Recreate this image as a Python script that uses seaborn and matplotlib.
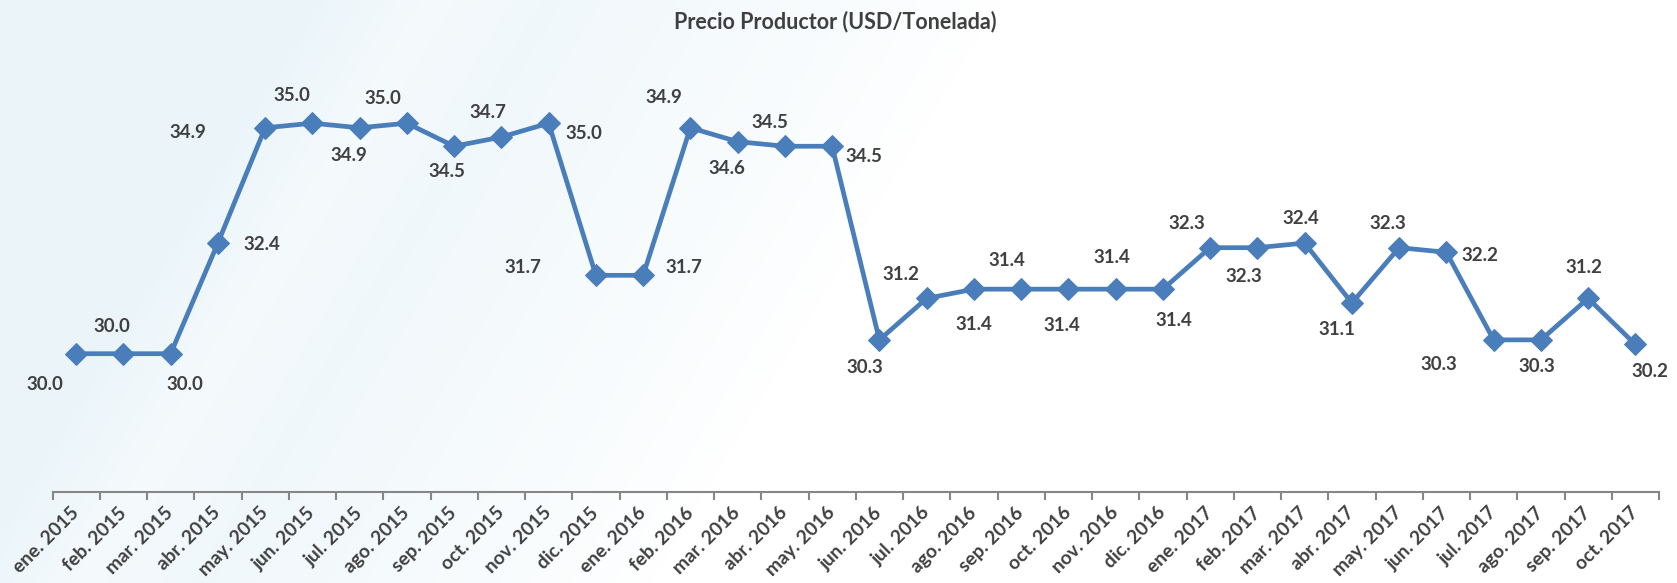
import numpy as np
import pandas as pd
import matplotlib
matplotlib.use("Agg")
import matplotlib.pyplot as plt
import seaborn as sns

# ---- data ----
months = ["ene. 2015", "feb. 2015", "mar. 2015", "abr. 2015", "may. 2015", "jun. 2015",
          "jul. 2015", "ago. 2015", "sep. 2015", "oct. 2015", "nov. 2015", "dic. 2015",
          "ene. 2016", "feb. 2016", "mar. 2016", "abr. 2016", "may. 2016", "jun. 2016",
          "jul. 2016", "ago. 2016", "sep. 2016", "oct. 2016", "nov. 2016", "dic. 2016",
          "ene. 2017", "feb. 2017", "mar. 2017", "abr. 2017", "may. 2017", "jun. 2017",
          "jul. 2017", "ago. 2017", "sep. 2017", "oct. 2017"]
prices = [30.0, 30.0, 30.0, 32.4, 34.9, 35.0, 34.9, 35.0, 34.5, 34.7, 35.0, 31.7,
          31.7, 34.9, 34.6, 34.5, 34.5, 30.3, 31.2, 31.4, 31.4, 31.4, 31.4, 31.4,
          32.3, 32.3, 32.4, 31.1, 32.3, 32.2, 30.3, 30.3, 31.2, 30.2]
title = "Precio Productor (USD/Tonelada)"

# label offsets in pixels (dx right, dy down) -- layout only
label_offsets = [(-31, 31), (-12, -27), (14, 31), (44, 1), (-77, 5), (-21, -28),
                 (-11, 28), (-24, -25), (-7, 25), (-14, -25), (35, 10), (-73, -8),
                 (41, -8), (-27, -30), (-11, 27), (-15, -24), (32, 10), (-15, 28),
                 (-26, -24), (0, 35), (-14, -29), (-7, 36), (-4, -32), (11, 31),
                 (-23, -24), (-14, 29), (-4, -25), (-15, 27), (-11, -24), (34, 3),
                 (-55, 25), (-4, 27), (-4, -31), (15, 27)]

df = pd.DataFrame({"pos": np.arange(len(months)), "mes": months, "precio": prices})

sns.set_theme(style="white")
plt.rcParams["font.family"] = ["Lato", "DejaVu Sans"]

W, H = 1677, 583
fig = plt.figure(figsize=(W / 100, H / 100), dpi=100)

# background tint (light blue fading to white along a diagonal)
bg = fig.add_axes([0, 0, 1, 1], zorder=0)
yy, xx = np.mgrid[0:H, 0:W]
u = xx + 0.6 * yy
t = np.clip((1000 - u) / 700, 0, 1) ** 0.8
band = np.clip(1 - np.abs(u - 430) / 120, 0, 1) * 0.35
t = np.clip(t - band, 0, 1)
base = np.array([0.92, 0.96, 0.978])
img = 1 - t[..., None] * (1 - base)[None, None, :]
bg.imshow(img, aspect="auto", extent=[0, 1, 0, 1], origin="upper")
bg.axis("off")

ax = fig.add_axes([52.5 / W, (H - 492) / H, 1606.5 / W, (492 - 31) / H], zorder=1)
ax.patch.set_alpha(0)

line_color = "#4A7EBB"
text_color = "#404040"

sns.lineplot(data=df, x="pos", y="precio", ax=ax, color=line_color, linewidth=3.4,
             marker="D", markersize=11.5, markeredgecolor=line_color,
             markerfacecolor=line_color)

for x, y, (dx, dy) in zip(df["pos"], df["precio"], label_offsets):
    ax.annotate(f"{y:.1f}", (x, y), xytext=(dx, -dy), textcoords="offset pixels",
                ha="center", va="center", fontsize=13.5, fontweight="bold",
                color=text_color, annotation_clip=False)

ax.set_xlim(-0.5, len(months) - 0.5)
ax.set_ylim(27, 37)
ax.set_yticks([])
ax.set_xlabel("")
ax.set_ylabel("")
for s in ["top", "right", "left"]:
    ax.spines[s].set_visible(False)
ax.spines["bottom"].set_color("#868686")
ax.spines["bottom"].set_linewidth(1.5)

ax.set_xticks(np.arange(-0.5, len(months)), minor=True)
ax.tick_params(axis="x", which="minor", length=6, width=1.5, color="#868686",
               direction="out", bottom=True)
ax.tick_params(axis="x", which="major", length=0, pad=13, labelrotation=45,
               labelsize=13.8, labelcolor=text_color)
ax.set_xticks(df["pos"])
ax.set_xticklabels(months)
for lab in ax.get_xticklabels():
    lab.set_rotation(45)
    lab.set_ha("right")
    lab.set_va("center")
    lab.set_rotation_mode("anchor")
    lab.set_fontweight("bold")

fig.text(0.498, 1 - 22 / H, title, ha="center", va="center", fontsize=15.5,
         fontweight="bold", color=text_color)

fig.savefig("out.png", dpi=100)
